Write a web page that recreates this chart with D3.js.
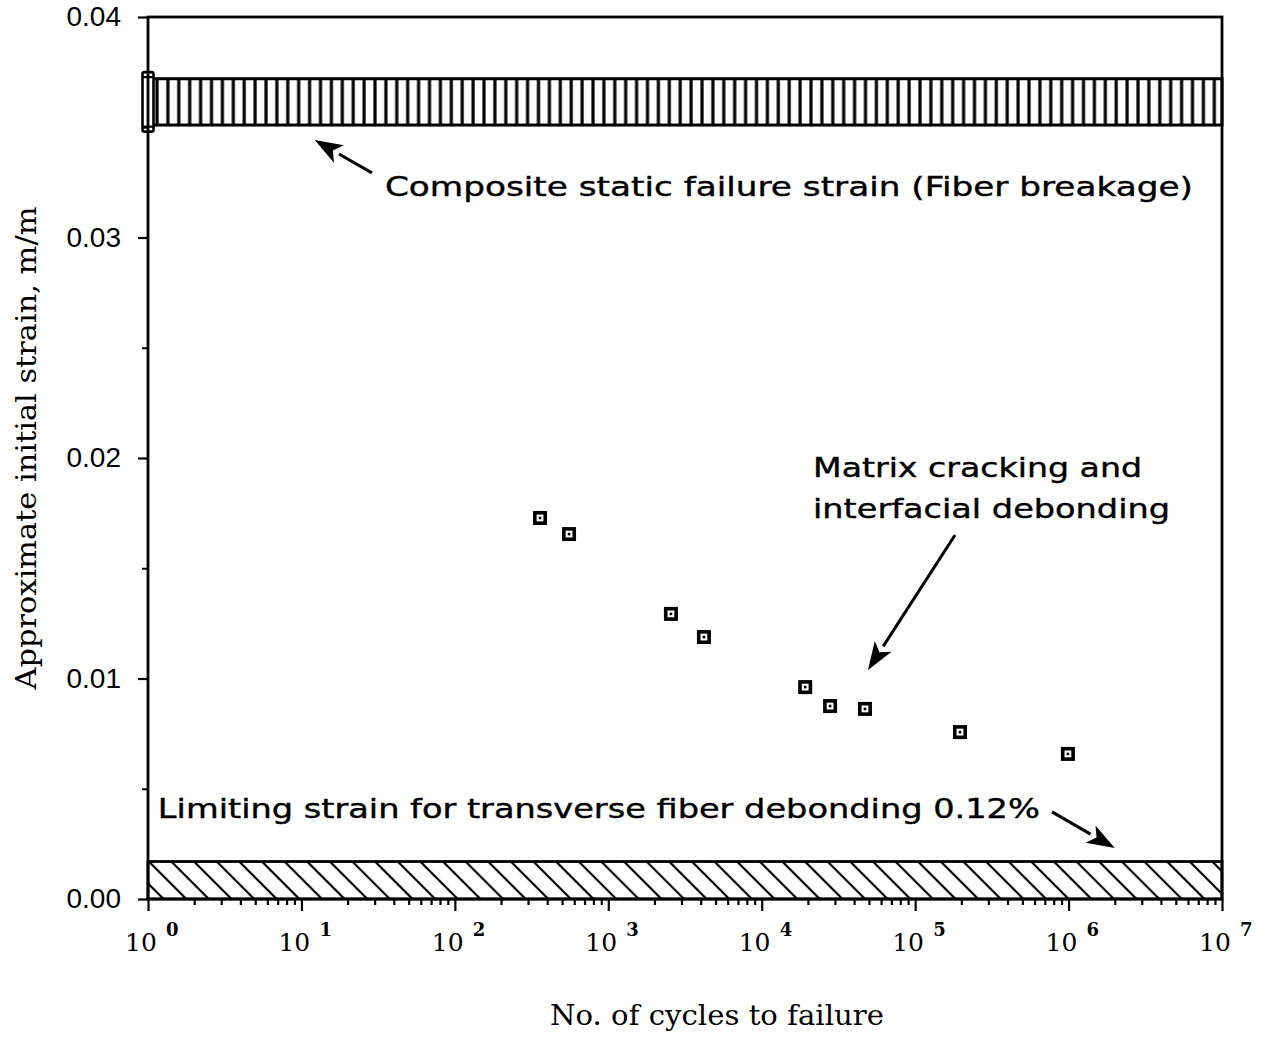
<!DOCTYPE html>
<html>
<head>
<meta charset="utf-8">
<script src="https://cdn.jsdelivr.net/npm/d3@7"></script>
<style>
  html, body { margin: 0; padding: 0; background: #fff; }
  svg { display: block; }
</style>
</head>
<body>
<svg id="chart" width="1264" height="1039"></svg>
<script>
// Fatigue data: cycles to failure vs. approximate initial strain
const cycles  = [359, 555, 2560, 4200, 19200, 27900, 47100, 196000, 990000];
const strains = [0.01728, 0.01655, 0.01293, 0.01188, 0.00961, 0.00875, 0.00862, 0.00757, 0.00658];

// Strain bands
const staticBand   = [0.0351, 0.0372];   // composite static failure strain
const staticScatter = [0.0348, 0.0375];  // scatter of static tests at N = 1
const debondBand   = [0.0, 0.0017];      // transverse fiber debonding limit

// Axis ticks
const xDecades = [0, 1, 2, 3, 4, 5, 6, 7];
const yTicks = [0, 0.01, 0.02, 0.03, 0.04];
const yMinor = [0.005, 0.015, 0.025, 0.035];

// Annotations (anchor in data units)
const notes = [
  { lines: ["Composite static failure strain (Fiber breakage)"], n: 35, s: 0.03188, widths: [808] },
  { lines: ["Matrix cracking and", "interfacial debonding"], n: 21600, s: 0.01914, widths: [329, 357] },
  { lines: ["Limiting strain for transverse fiber debonding 0.12%"], n: 1.16, s: 0.00367, widths: [882] }
];
const arrows = [
  { from: [28.8, 0.03293], to: [12.2, 0.03442] },
  { from: [182000, 0.01651], to: [49300, 0.01039] },
  { from: [780000, 0.00395], to: [2.0e6, 0.00231] }
];

const svg = d3.select("#chart");
const x = d3.scaleLog().domain([1, 1e7]).range([148, 1222]);
const y = d3.scaleLinear().domain([0, 0.04]).range([899, 17]);

svg.append("rect").attr("width", 1264).attr("height", 1039).attr("fill", "#fff");

const defs = svg.append("defs");
// vertical hatching for the static failure band
const pv = defs.append("pattern").attr("id", "vhatch")
  .attr("patternUnits", "userSpaceOnUse").attr("width", 10.9).attr("height", 10)
  .attr("x", x(1) + 4);
pv.append("line").attr("x1", 5).attr("x2", 5).attr("y1", -1).attr("y2", 11)
  .attr("stroke", "#000").attr("stroke-width", 3.2);
// diagonal hatching for the debonding band
const pd = defs.append("pattern").attr("id", "dhatch")
  .attr("patternUnits", "userSpaceOnUse").attr("width", 16).attr("height", 16)
  .attr("patternTransform", "rotate(-45)");
pd.append("line").attr("x1", 8).attr("x2", 8).attr("y1", -1).attr("y2", 17)
  .attr("stroke", "#000").attr("stroke-width", 2.2);

// bands
const x0 = x.range()[0], x1 = x.range()[1];
svg.append("rect")
  .attr("x", x0).attr("width", x1 - x0)
  .attr("y", y(staticBand[1])).attr("height", y(staticBand[0]) - y(staticBand[1]))
  .attr("fill", "url(#vhatch)").attr("stroke", "#000").attr("stroke-width", 3);
svg.append("rect")
  .attr("x", x0).attr("width", x1 - x0)
  .attr("y", y(debondBand[1])).attr("height", y(debondBand[0]) - y(debondBand[1]))
  .attr("fill", "url(#dhatch)").attr("stroke", "#000").attr("stroke-width", 2.8);

// static test scatter capsule at N = 1
svg.append("rect")
  .attr("x", x(1) - 5.5).attr("width", 11)
  .attr("y", y(staticScatter[1])).attr("height", y(staticScatter[0]) - y(staticScatter[1]))
  .attr("rx", 2).attr("fill", "#fff").attr("stroke", "#000").attr("stroke-width", 2.6);
[staticScatter[1], staticScatter[0]].forEach(v => {
  const off = v === staticScatter[1] ? 5 : -5;
  svg.append("line").attr("x1", x(1) - 5.5).attr("x2", x(1) + 5.5)
    .attr("y1", y(v) + off).attr("y2", y(v) + off)
    .attr("stroke", "#000").attr("stroke-width", 2.2);
});

// frame
svg.append("rect")
  .attr("x", x0).attr("y", y(0.04)).attr("width", x1 - x0).attr("height", y(0) - y(0.04))
  .attr("fill", "none").attr("stroke", "#000").attr("stroke-width", 2.8);

// x axis: major and minor ticks
const majorX = xDecades.map(d => Math.pow(10, d));
const minorX = [];
xDecades.slice(0, -1).forEach(d => { for (let k = 2; k <= 9; k++) minorX.push(k * Math.pow(10, d)); });

const gxMajor = svg.append("g").attr("transform", `translate(0,${y(0)})`)
  .call(d3.axisBottom(x).tickValues(majorX).tickSize(12).tickFormat(""));
const gxMinor = svg.append("g").attr("transform", `translate(0,${y(0)})`)
  .call(d3.axisBottom(x).tickValues(minorX).tickSize(6).tickFormat(""));
[gxMajor, gxMinor].forEach(g => {
  g.select(".domain").remove();
  g.selectAll(".tick line").attr("stroke", "#000").attr("stroke-width", 2.2);
});

// x tick labels: 10 with superscript exponent
const xl = svg.append("g").attr("class", "xlabels");
xDecades.forEach(d => {
  const cx = x(Math.pow(10, d));
  xl.append("text").attr("x", cx - 23).attr("y", 951)
    .attr("font-family", "DejaVu Serif").attr("font-size", 25).attr("fill", "#000")
    .text("10");
  xl.append("text").attr("x", cx + 18).attr("y", 936)
    .attr("font-family", "DejaVu Serif").attr("font-weight", "bold").attr("font-size", 18).attr("fill", "#000")
    .text(String(d));
});

// y axis
const gy = svg.append("g").attr("transform", `translate(${x0},0)`)
  .call(d3.axisLeft(y).tickValues(yTicks).tickSize(10).tickPadding(17).tickFormat(d3.format(".2f")));
gy.select(".domain").remove();
gy.selectAll(".tick line").attr("stroke", "#000").attr("stroke-width", 2.2);
gy.selectAll(".tick text").attr("font-family", "Liberation Sans, Arial, sans-serif")
  .attr("font-size", 28).attr("fill", "#000");
const gyMinor = svg.append("g").attr("transform", `translate(${x0},0)`)
  .call(d3.axisLeft(y).tickValues(yMinor).tickSize(6).tickFormat(""));
gyMinor.select(".domain").remove();
gyMinor.selectAll(".tick line").attr("stroke", "#000").attr("stroke-width", 2);

// axis titles
svg.append("text").attr("x", 717).attr("y", 1025).attr("text-anchor", "middle")
  .attr("font-family", "DejaVu Serif").attr("font-size", 27)
  .attr("textLength", 334).attr("lengthAdjust", "spacingAndGlyphs")
  .text("No. of cycles to failure");
svg.append("text")
  .attr("transform", "translate(36,448) rotate(-90)")
  .attr("text-anchor", "middle")
  .attr("font-family", "DejaVu Serif").attr("font-size", 27)
  .attr("textLength", 483).attr("lengthAdjust", "spacingAndGlyphs")
  .text("Approximate initial strain, m/m");

// data markers: hollow squares with a center dot
const pts = svg.append("g");
cycles.forEach((n, i) => {
  const px = x(n), py = y(strains[i]);
  pts.append("rect").attr("x", px - 5.2).attr("y", py - 5.2).attr("width", 10.4).attr("height", 10.4)
    .attr("fill", "#fff").attr("stroke", "#000").attr("stroke-width", 3.6);
  pts.append("rect").attr("x", px - 1.3).attr("y", py - 1.3).attr("width", 2.6).attr("height", 2.6)
    .attr("fill", "#000");
});

// annotation text
notes.forEach(nt => {
  nt.lines.forEach((ln, j) => {
    svg.append("text")
      .attr("x", x(nt.n)).attr("y", y(nt.s) + j * 41)
      .attr("font-family", "DejaVu Sans").attr("font-size", 27).attr("fill", "#000")
      .attr("stroke", "#000").attr("stroke-width", 0.4)
      .attr("textLength", nt.widths[j]).attr("lengthAdjust", "spacingAndGlyphs")
      .text(ln);
  });
});

// annotation arrows with filled heads
arrows.forEach(a => {
  const fx = x(a.from[0]), fy = y(a.from[1]);
  const tx = x(a.to[0]), ty = y(a.to[1]);
  const ang = Math.atan2(ty - fy, tx - fx);
  const headLen = 28, headW = 10;
  const bx = tx - headLen * Math.cos(ang), by = ty - headLen * Math.sin(ang);
  svg.append("line").attr("x1", fx).attr("y1", fy).attr("x2", bx).attr("y2", by)
    .attr("stroke", "#000").attr("stroke-width", 3);
  const nx = -Math.sin(ang), ny = Math.cos(ang);
  svg.append("path")
    .attr("d", `M${tx},${ty}L${bx + nx * headW},${by + ny * headW}L${bx + 7 * Math.cos(ang)},${by + 7 * Math.sin(ang)}L${bx - nx * headW},${by - ny * headW}Z`)
    .attr("fill", "#000");
});
</script>
</body>
</html>
